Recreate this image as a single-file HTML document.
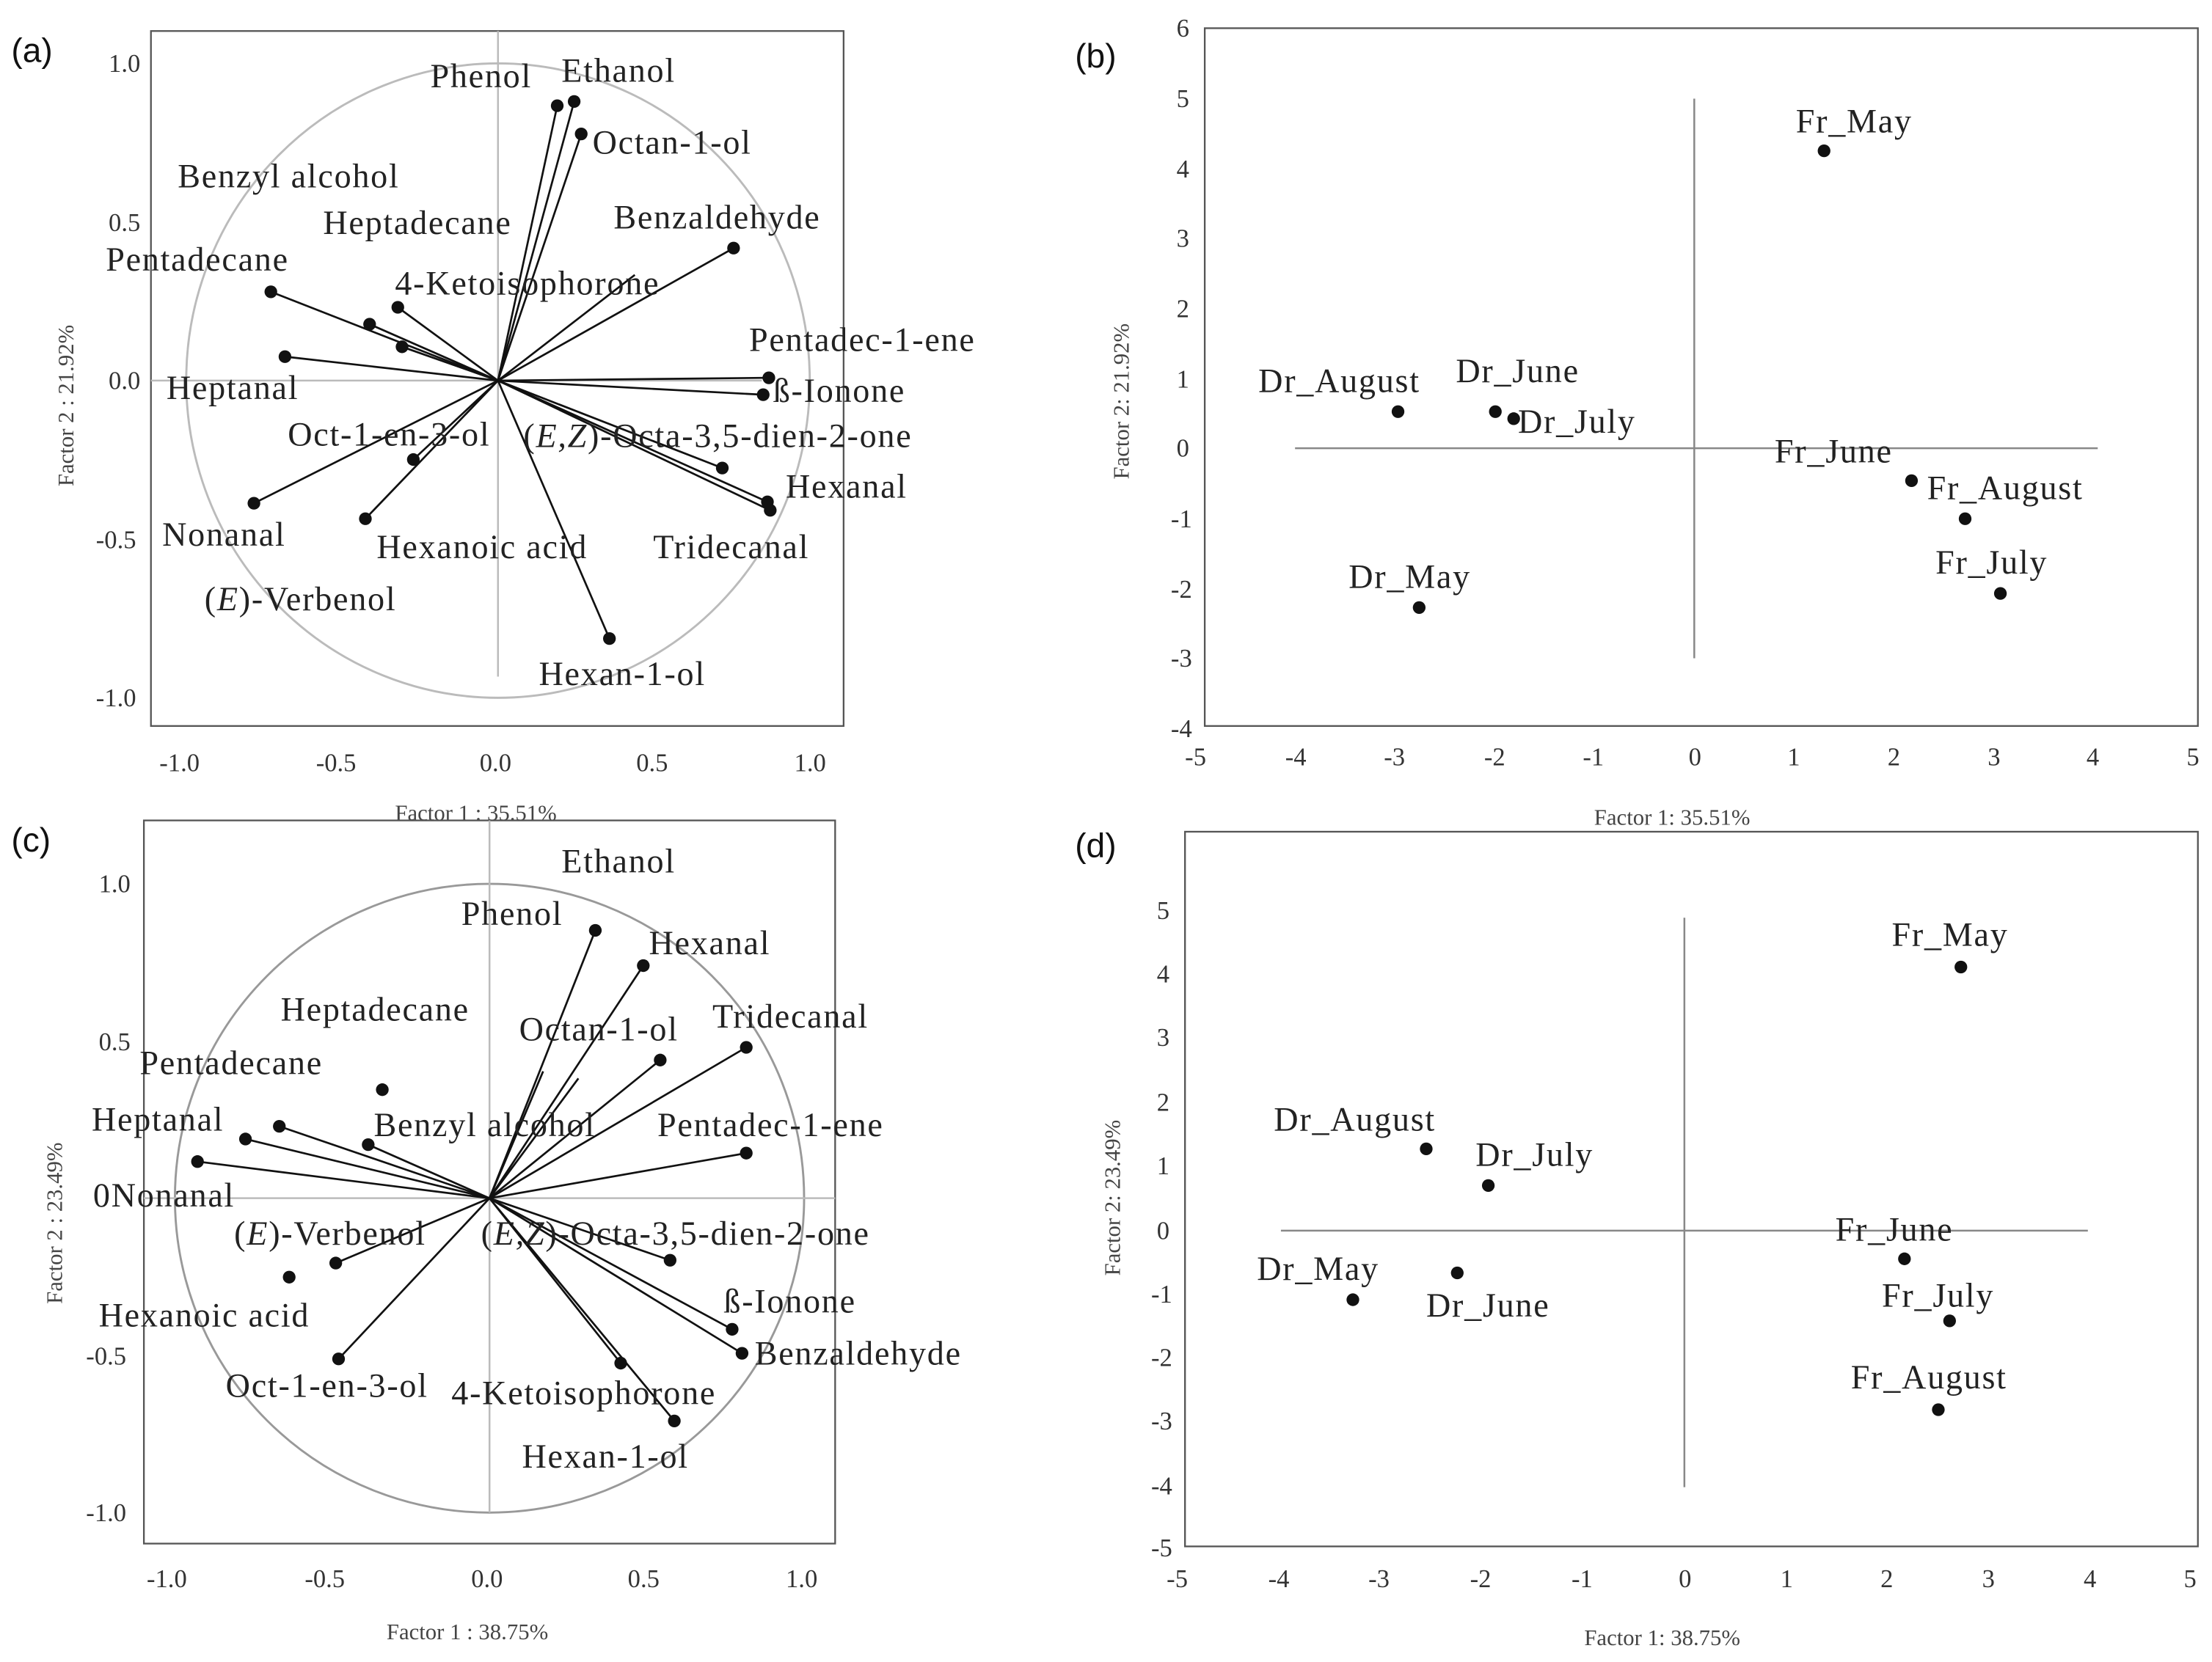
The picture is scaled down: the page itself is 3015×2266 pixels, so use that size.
<!DOCTYPE html>
<html><head><meta charset="utf-8"><style>
html,body{margin:0;padding:0;background:#fff;width:3015px;height:2266px;overflow:hidden}
svg{display:block}
text{font-family:"Liberation Serif",serif;fill:#222}
.l{font-size:24px;letter-spacing:0.9px}
.t{font-size:18px;fill:#333}
.ax{font-size:16px;fill:#444}
.p{font-family:"Liberation Sans",sans-serif;font-size:24px;fill:#111}
</style></head><body>
<svg width="3015" height="2266" viewBox="0 0 1568 1179" preserveAspectRatio="none">
<rect width="1568" height="1179" fill="#fff"/>
<text class="p" x="8" y="44">(a)</text>
<text class="p" x="762" y="48">(b)</text>
<text class="p" x="8" y="604">(c)</text>
<text class="p" x="762" y="608">(d)</text>

<!-- ===== (a) ===== -->
<g>
<rect x="107" y="22" width="491" height="493" fill="none" stroke="#555" stroke-width="1.2"/>
<ellipse cx="353" cy="270" rx="221" ry="225" fill="none" stroke="#bbb" stroke-width="1.5"/>
<line x1="353" y1="22" x2="353" y2="480" stroke="#bbb" stroke-width="1.3"/>
<line x1="107" y1="270" x2="540" y2="270" stroke="#bbb" stroke-width="1.3"/>
<g stroke="#111" stroke-width="1.4">
<line x1="353" y1="270" x2="395" y2="75"/><line x1="353" y1="270" x2="407" y2="72"/>
<line x1="353" y1="270" x2="412" y2="95"/><line x1="353" y1="270" x2="520" y2="176"/>
<line x1="353" y1="270" x2="192" y2="207"/><line x1="353" y1="270" x2="262" y2="230"/>
<line x1="353" y1="270" x2="282" y2="218"/><line x1="353" y1="270" x2="285" y2="246"/>
<line x1="353" y1="270" x2="202" y2="253"/><line x1="353" y1="270" x2="545" y2="268"/>
<line x1="353" y1="270" x2="541" y2="280"/><line x1="353" y1="270" x2="512" y2="332"/>
<line x1="353" y1="270" x2="544" y2="356"/><line x1="353" y1="270" x2="546" y2="362"/>
<line x1="353" y1="270" x2="180" y2="357"/><line x1="353" y1="270" x2="293" y2="326"/>
<line x1="353" y1="270" x2="259" y2="368"/><line x1="353" y1="270" x2="432" y2="453"/>
<line x1="353" y1="270" x2="450" y2="195"/>
</g>
<g fill="#111">
<circle cx="395" cy="75" r="4.5"/><circle cx="407" cy="72" r="4.5"/><circle cx="412" cy="95" r="4.5"/>
<circle cx="520" cy="176" r="4.5"/><circle cx="192" cy="207" r="4.5"/><circle cx="262" cy="230" r="4.5"/>
<circle cx="282" cy="218" r="4.5"/><circle cx="285" cy="246" r="4.5"/><circle cx="202" cy="253" r="4.5"/>
<circle cx="545" cy="268" r="4.5"/><circle cx="541" cy="280" r="4.5"/><circle cx="512" cy="332" r="4.5"/>
<circle cx="544" cy="356" r="4.5"/><circle cx="546" cy="362" r="4.5"/><circle cx="180" cy="357" r="4.5"/>
<circle cx="293" cy="326" r="4.5"/><circle cx="259" cy="368" r="4.5"/><circle cx="432" cy="453" r="4.5"/>
</g>
<text class="l" x="305" y="62">Phenol</text><text class="l" x="398" y="58">Ethanol</text>
<text class="l" x="420" y="109">Octan-1-ol</text><text class="l" x="126" y="133">Benzyl alcohol</text>
<text class="l" x="229" y="166">Heptadecane</text><text class="l" x="435" y="162">Benzaldehyde</text>
<text class="l" x="75" y="192">Pentadecane</text><text class="l" x="280" y="209">4-Ketoisophorone</text>
<text class="l" x="531" y="249">Pentadec-1-ene</text><text class="l" x="118" y="283">Heptanal</text>
<text class="l" x="548" y="285">ß-Ionone</text><text class="l" x="204" y="316">Oct-1-en-3-ol</text>
<text class="l" x="371" y="317">(<tspan font-style="italic">E,Z</tspan>)-Octa-3,5-dien-2-one</text>
<text class="l" x="557" y="353">Hexanal</text><text class="l" x="115" y="387">Nonanal</text>
<text class="l" x="267" y="396">Hexanoic acid</text><text class="l" x="463" y="396">Tridecanal</text>
<text class="l" x="145" y="433">(<tspan font-style="italic">E</tspan>)-Verbenol</text>
<text class="l" x="382" y="486">Hexan-1-ol</text>
<text class="t" x="77" y="51">1.0</text><text class="t" x="77" y="164">0.5</text>
<text class="t" x="77" y="276">0.0</text><text class="t" x="68" y="389">-0.5</text>
<text class="t" x="68" y="501">-1.0</text>
<text class="t" x="113" y="547">-1.0</text><text class="t" x="224" y="547">-0.5</text>
<text class="t" x="340" y="547">0.0</text><text class="t" x="451" y="547">0.5</text>
<text class="t" x="563" y="547">1.0</text>
<text class="ax" x="280" y="582">Factor 1 : 35.51%</text>
<text class="ax" transform="translate(52,345) rotate(-90)">Factor 2 : 21.92%</text>
</g>

<!-- ===== (b) ===== -->
<g>
<rect x="854" y="20" width="704" height="495" fill="none" stroke="#555" stroke-width="1.2"/>
<line x1="918" y1="318" x2="1487" y2="318" stroke="#888" stroke-width="1.3"/>
<line x1="1201" y1="70" x2="1201" y2="467" stroke="#888" stroke-width="1.3"/>
<g fill="#111">
<circle cx="1293" cy="107" r="4.5"/><circle cx="991" cy="292" r="4.5"/><circle cx="1060" cy="292" r="4.5"/>
<circle cx="1073" cy="297" r="4.5"/><circle cx="1355" cy="341" r="4.5"/><circle cx="1393" cy="368" r="4.5"/>
<circle cx="1418" cy="421" r="4.5"/><circle cx="1006" cy="431" r="4.5"/>
</g>
<text class="l" x="1273" y="94">Fr_May</text><text class="l" x="892" y="278">Dr_August</text>
<text class="l" x="1032" y="271">Dr_June</text><text class="l" x="1076" y="307">Dr_July</text>
<text class="l" x="1258" y="328">Fr_June</text><text class="l" x="1366" y="354">Fr_August</text>
<text class="l" x="1372" y="407">Fr_July</text><text class="l" x="956" y="417">Dr_May</text>
<text class="t" x="834" y="26">6</text><text class="t" x="834" y="76">5</text>
<text class="t" x="834" y="126">4</text><text class="t" x="834" y="175">3</text>
<text class="t" x="834" y="225">2</text><text class="t" x="834" y="275">1</text>
<text class="t" x="834" y="324">0</text><text class="t" x="830" y="374">-1</text>
<text class="t" x="830" y="424">-2</text><text class="t" x="830" y="473">-3</text>
<text class="t" x="830" y="523">-4</text>
<text class="t" x="840" y="543">-5</text><text class="t" x="911" y="543">-4</text>
<text class="t" x="981" y="543">-3</text><text class="t" x="1052" y="543">-2</text>
<text class="t" x="1122" y="543">-1</text><text class="t" x="1197" y="543">0</text>
<text class="t" x="1267" y="543">1</text><text class="t" x="1338" y="543">2</text>
<text class="t" x="1409" y="543">3</text><text class="t" x="1479" y="543">4</text>
<text class="t" x="1550" y="543">5</text>
<text class="ax" x="1130" y="585">Factor 1: 35.51%</text>
<text class="ax" transform="translate(800,340) rotate(-90)">Factor 2: 21.92%</text>
</g>

<!-- ===== (c) ===== -->
<g>
<rect x="102" y="582" width="490" height="513" fill="none" stroke="#555" stroke-width="1.2"/>
<ellipse cx="347" cy="850" rx="223" ry="223" fill="none" stroke="#999" stroke-width="1.5"/>
<line x1="347" y1="582" x2="347" y2="1073" stroke="#bbb" stroke-width="1.3"/>
<line x1="102" y1="850" x2="592" y2="850" stroke="#bbb" stroke-width="1.3"/>
<g stroke="#111" stroke-width="1.4">
<line x1="347" y1="850" x2="422" y2="660"/><line x1="347" y1="850" x2="456" y2="685"/>
<line x1="347" y1="850" x2="468" y2="752"/><line x1="347" y1="850" x2="529" y2="743"/>
<line x1="347" y1="850" x2="198" y2="799"/><line x1="347" y1="850" x2="174" y2="808"/>
<line x1="347" y1="850" x2="261" y2="812"/><line x1="347" y1="850" x2="140" y2="824"/>
<line x1="347" y1="850" x2="529" y2="818"/><line x1="347" y1="850" x2="238" y2="896"/>
<line x1="347" y1="850" x2="240" y2="964"/><line x1="347" y1="850" x2="475" y2="894"/>
<line x1="347" y1="850" x2="519" y2="943"/><line x1="347" y1="850" x2="526" y2="960"/>
<line x1="347" y1="850" x2="440" y2="967"/><line x1="347" y1="850" x2="478" y2="1008"/>
<line x1="347" y1="850" x2="410" y2="765"/><line x1="347" y1="850" x2="385" y2="760"/>
</g>
<g fill="#111">
<circle cx="422" cy="660" r="4.5"/><circle cx="456" cy="685" r="4.5"/><circle cx="468" cy="752" r="4.5"/>
<circle cx="529" cy="743" r="4.5"/><circle cx="271" cy="773" r="4.5"/><circle cx="198" cy="799" r="4.5"/>
<circle cx="174" cy="808" r="4.5"/><circle cx="261" cy="812" r="4.5"/><circle cx="140" cy="824" r="4.5"/>
<circle cx="529" cy="818" r="4.5"/><circle cx="238" cy="896" r="4.5"/><circle cx="205" cy="906" r="4.5"/>
<circle cx="240" cy="964" r="4.5"/><circle cx="475" cy="894" r="4.5"/><circle cx="519" cy="943" r="4.5"/>
<circle cx="526" cy="960" r="4.5"/><circle cx="440" cy="967" r="4.5"/><circle cx="478" cy="1008" r="4.5"/>
</g>
<text class="l" x="398" y="619">Ethanol</text><text class="l" x="327" y="656">Phenol</text>
<text class="l" x="460" y="677">Hexanal</text><text class="l" x="199" y="724">Heptadecane</text>
<text class="l" x="505" y="729">Tridecanal</text><text class="l" x="368" y="738">Octan-1-ol</text>
<text class="l" x="99" y="762">Pentadecane</text><text class="l" x="65" y="802">Heptanal</text>
<text class="l" x="265" y="806">Benzyl alcohol</text><text class="l" x="466" y="806">Pentadec-1-ene</text>
<text class="l" x="66" y="856">0Nonanal</text>
<text class="l" x="166" y="883">(<tspan font-style="italic">E</tspan>)-Verbenol</text>
<text class="l" x="341" y="883">(<tspan font-style="italic">E,Z</tspan>)-Octa-3,5-dien-2-one</text>
<text class="l" x="70" y="941">Hexanoic acid</text><text class="l" x="513" y="931">ß-Ionone</text>
<text class="l" x="535" y="968">Benzaldehyde</text><text class="l" x="160" y="991">Oct-1-en-3-ol</text>
<text class="l" x="320" y="996">4-Ketoisophorone</text><text class="l" x="370" y="1041">Hexan-1-ol</text>
<text class="t" x="70" y="633">1.0</text><text class="t" x="70" y="745">0.5</text>
<text class="t" x="61" y="968">-0.5</text><text class="t" x="61" y="1079">-1.0</text>
<text class="t" x="104" y="1126">-1.0</text><text class="t" x="216" y="1126">-0.5</text>
<text class="t" x="334" y="1126">0.0</text><text class="t" x="445" y="1126">0.5</text>
<text class="t" x="557" y="1126">1.0</text>
<text class="ax" x="274" y="1163">Factor 1 : 38.75%</text>
<text class="ax" transform="translate(44,925) rotate(-90)">Factor 2 : 23.49%</text>
</g>

<!-- ===== (d) ===== -->
<g>
<rect x="840" y="590" width="718" height="507" fill="none" stroke="#555" stroke-width="1.2"/>
<line x1="908" y1="873" x2="1480" y2="873" stroke="#888" stroke-width="1.3"/>
<line x1="1194" y1="651" x2="1194" y2="1055" stroke="#888" stroke-width="1.3"/>
<g fill="#111">
<circle cx="1390" cy="686" r="4.5"/><circle cx="1011" cy="815" r="4.5"/><circle cx="1055" cy="841" r="4.5"/>
<circle cx="1350" cy="893" r="4.5"/><circle cx="1033" cy="903" r="4.5"/><circle cx="959" cy="922" r="4.5"/>
<circle cx="1382" cy="937" r="4.5"/><circle cx="1374" cy="1000" r="4.5"/>
</g>
<text class="l" x="1341" y="671">Fr_May</text><text class="l" x="903" y="802">Dr_August</text>
<text class="l" x="1046" y="827">Dr_July</text><text class="l" x="1301" y="880">Fr_June</text>
<text class="l" x="891" y="908">Dr_May</text><text class="l" x="1011" y="934">Dr_June</text>
<text class="l" x="1334" y="927">Fr_July</text><text class="l" x="1312" y="985">Fr_August</text>
<text class="t" x="820" y="652">5</text><text class="t" x="820" y="697">4</text>
<text class="t" x="820" y="742">3</text><text class="t" x="820" y="788">2</text>
<text class="t" x="820" y="833">1</text><text class="t" x="820" y="879">0</text>
<text class="t" x="816" y="924">-1</text><text class="t" x="816" y="969">-2</text>
<text class="t" x="816" y="1014">-3</text><text class="t" x="816" y="1060">-4</text>
<text class="t" x="816" y="1104">-5</text>
<text class="t" x="827" y="1126">-5</text><text class="t" x="899" y="1126">-4</text>
<text class="t" x="970" y="1126">-3</text><text class="t" x="1042" y="1126">-2</text>
<text class="t" x="1114" y="1126">-1</text><text class="t" x="1190" y="1126">0</text>
<text class="t" x="1262" y="1126">1</text><text class="t" x="1333" y="1126">2</text>
<text class="t" x="1405" y="1126">3</text><text class="t" x="1477" y="1126">4</text>
<text class="t" x="1548" y="1126">5</text>
<text class="ax" x="1123" y="1167">Factor 1: 38.75%</text>
<text class="ax" transform="translate(794,905) rotate(-90)">Factor 2: 23.49%</text>
</g>
</svg>
</body></html>
